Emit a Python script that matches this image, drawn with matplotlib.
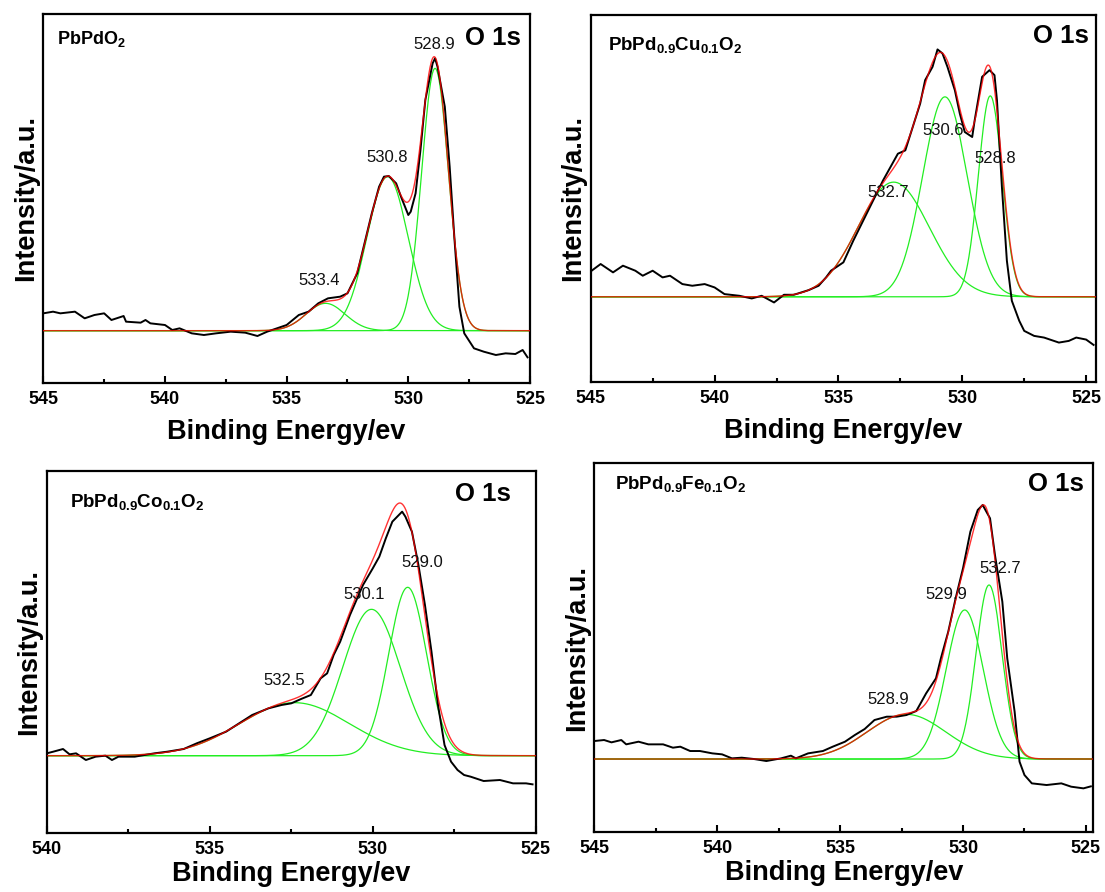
import numpy as np
import matplotlib
matplotlib.use("Agg")
import matplotlib.pyplot as plt
from matplotlib.ticker import MultipleLocator

plt.rcParams['font.family'] = ['Liberation Sans', 'DejaVu Sans']
plt.rcParams['mathtext.fontset'] = 'custom'
plt.rcParams['mathtext.rm'] = 'Liberation Sans:bold'
plt.rcParams['mathtext.bf'] = 'Liberation Sans:bold'
plt.rcParams['mathtext.default'] = 'bf'

# ---- measured O 1s spectra (binding energy in eV, intensity a.u., baseline subtracted)
p1_be = [545.0, 544.6, 544.3, 543.7, 543.3, 542.9, 542.5, 542.2, 541.7, 541.6, 541.0, 540.8,
         540.6, 540.0, 539.7, 539.4, 538.9, 538.4, 537.9, 537.3, 536.7, 536.2, 535.8, 535.4,
         535.0, 534.5, 534.1, 533.7, 533.3, 532.8, 532.5, 532.1, 531.8, 531.5, 531.2, 531.0,
         530.8, 530.5, 530.3, 530.0, 529.9, 529.7, 529.5, 529.3, 529.0, 528.9, 528.8, 528.5,
         528.3, 528.1, 527.9, 527.7, 527.3, 526.9, 526.4, 526.0, 525.6, 525.3, 525.1]
p1_int = [5.2, 5.7, 5.2, 5.7, 3.7, 4.7, 5.2, 3.2, 4.4, 2.7, 2.4, 3.2,
          2.2, 1.7, 0.2, 0.7, -0.8, -1.3, -0.8, -0.3, -0.6, -1.6, -0.3, 0.7,
          1.7, 4.7, 5.7, 8.2, 9.7, 10.2, 11.2, 17.2, 26.2, 35.2, 43.2, 46.2,
          46.4, 44.2, 40.2, 34.7, 35.7, 41.2, 54.2, 69.2, 80.2, 81.7, 79.2, 67.2,
          49.2, 27.2, 7.2, -0.8, -5.3, -6.3, -7.3, -6.8, -7.0, -5.8, -8.0]

p2_be = [545.0, 544.6, 544.1, 543.7, 543.2, 542.9, 542.5, 542.1, 541.8, 541.3, 540.9, 540.4,
         540.0, 539.6, 539.0, 538.5, 538.1, 537.6, 537.2, 536.8, 536.2, 535.8, 535.5, 535.3,
         534.8, 534.4, 534.0, 533.6, 533.2, 532.9, 532.6, 532.3, 532.0, 531.7, 531.5, 531.2,
         531.0, 530.8, 530.6, 530.3, 530.1, 529.9, 529.6, 529.5, 529.2, 528.9, 528.7, 528.6,
         528.4, 528.2, 528.0, 527.7, 527.5, 527.1, 526.7, 526.1, 525.7, 525.4, 525.0, 524.7]
p2_int = [7.6, 9.8, 7.3, 9.3, 7.8, 6.3, 7.8, 5.8, 6.3, 3.8, 3.3, 3.8,
          2.8, 0.8, 0.3, -0.5, 0.3, -1.7, 0.6, 0.6, 2.0, 3.3, 5.8, 7.8,
          10.3, 16.8, 22.8, 28.8, 34.8, 38.8, 42.8, 43.8, 50.8, 57.8, 64.8, 68.8,
          74.0, 72.8, 68.8, 61.8, 54.8, 49.3, 47.8, 52.8, 65.8, 67.8, 66.3, 58.8,
          32.8, 10.8, -1.2, -7.2, -10.2, -11.7, -12.2, -13.7, -13.2, -12.2, -12.8, -14.4]

p3_be = [540.0, 539.8, 539.5, 539.3, 539.1, 538.8, 538.5, 538.2, 538.0, 537.8, 537.3, 537.0,
         536.7, 536.3, 535.8, 535.4, 535.0, 534.5, 534.1, 533.7, 533.2, 532.8, 532.5, 532.2,
         531.9, 531.6, 531.4, 531.2, 531.0, 530.7, 530.3, 530.0, 529.8, 529.6, 529.4, 529.1,
         529.0, 528.8, 528.6, 528.4, 528.2, 528.0, 527.8, 527.6, 527.4, 527.2, 527.0, 526.6,
         526.1, 525.7, 525.3, 525.1]
p3_int = [0.7, 1.2, 2.0, 0.4, 0.7, -1.3, -0.3, 0.0, -1.3, -0.3, -0.3, 0.2,
          0.7, 1.2, 2.0, 3.7, 5.2, 7.2, 9.7, 12.2, 14.2, 15.2, 15.7, 17.0,
          18.2, 23.2, 24.7, 30.2, 34.2, 42.2, 51.2, 56.2, 59.7, 65.2, 70.2, 73.2,
          71.7, 67.2, 57.2, 45.2, 31.2, 15.2, 3.2, -1.8, -4.3, -5.8, -6.3, -7.6,
          -7.3, -8.3, -8.3, -8.6]

p4_be = [545.0, 544.6, 544.3, 543.9, 543.7, 543.2, 542.8, 542.2, 541.8, 541.5, 541.1, 540.7,
         540.2, 539.8, 539.4, 539.0, 538.5, 538.0, 537.4, 537.0, 536.8, 536.3, 535.7, 535.3,
         534.8, 534.4, 534.0, 533.6, 533.1, 532.7, 532.3, 531.9, 531.5, 531.1, 530.9, 530.6,
         530.3, 530.0, 529.7, 529.4, 529.2, 528.9, 528.7, 528.4, 528.2, 527.9, 527.7, 527.5,
         527.2, 526.6, 526.0, 525.6, 525.1, 524.8]
p4_int = [5.4, 5.7, 5.0, 5.7, 4.4, 5.2, 4.4, 4.4, 3.4, 3.7, 2.4, 2.4,
          1.7, 1.4, 0.2, 0.4, 0.0, -0.6, 0.2, 1.0, 0.2, 1.7, 2.4, 3.7,
          5.2, 7.2, 9.0, 11.7, 12.7, 12.7, 13.2, 14.4, 19.7, 24.2, 30.2, 38.2,
          48.2, 57.2, 68.2, 74.7, 76.2, 72.2, 61.2, 47.2, 30.2, 14.2, -0.8, -4.8,
          -7.3, -7.8, -7.3, -8.3, -8.8, -8.2]

# ---- fitted components: centre (eV), height, sigma (eV)
p1_peaks = [(533.4, 8.2, 0.8), (530.85, 46.2, 0.85), (528.9, 78.7, 0.55)]
p2_peaks = [(532.77, 34.3, 1.44), (530.7, 59.8, 0.9), (528.87, 60.1, 0.48)]
p3_peaks = [(532.4, 15.9, 1.68), (530.04, 43.9, 0.88), (528.93, 50.5, 0.58)]
p4_peaks = [(532.3, 13.4, 1.6), (529.93, 44.7, 0.75), (528.94, 52.2, 0.53)]

# ---- labels
p1_names = ['533.4', '530.8', '528.9']
p2_names = ['532.7', '530.6', '528.8']
p3_names = ['532.5', '530.1', '529.0']
p4_names = ['528.9', '529.9', '532.7']
compounds = [r'PbPdO$_{2}$', r'PbPd$_{0.9}$Cu$_{0.1}$O$_{2}$',
             r'PbPd$_{0.9}$Co$_{0.1}$O$_{2}$', r'PbPd$_{0.9}$Fe$_{0.1}$O$_{2}$']


def gauss(x, c, h, s):
    return h * np.exp(-(x - c) ** 2 / (2 * s ** 2))


fig = plt.figure(figsize=(11.05, 8.92), dpi=100)

panels = [
    dict(rect=[0.0392, 0.5710, 0.4404, 0.4133], be=p1_be, y=p1_int, peaks=p1_peaks,
         names=p1_names, xlim=(545, 525), ylim=(-15.6, 95.0),
         lab_xy=[(533.66, 13.7), (530.88, 50.7), (528.94, 84.4)],
         comp_xy=(0.029, 0.919), comp_fs=13, o1s_xy=(0.982, 0.916), xpad=8),
    dict(rect=[0.5346, 0.5721, 0.4573, 0.4111], be=p2_be, y=p2_int, peaks=p2_peaks,
         names=p2_names, xlim=(545, 524.6), ylim=(-25.4, 84.3),
         lab_xy=[(533.0, 29.8), (530.79, 48.5), (528.66, 40.1)],
         comp_xy=(0.035, 0.904), comp_fs=13.5, o1s_xy=(0.985, 0.923), xpad=8),
    dict(rect=[0.0423, 0.0665, 0.4426, 0.4055], be=p3_be, y=p3_int, peaks=p3_peaks,
         names=p3_names, xlim=(540, 525), ylim=(-23.1, 85.4),
         lab_xy=[(532.73, 21.2), (530.25, 47.0), (528.48, 56.7)],
         comp_xy=(0.048, 0.90), comp_fs=13.5, o1s_xy=(0.95, 0.917), xpad=2),
    dict(rect=[0.5378, 0.0676, 0.4516, 0.4130], be=p4_be, y=p4_int, peaks=p4_peaks,
         names=p4_names, xlim=(545, 524.7), ylim=(-21.8, 88.7),
         lab_xy=[(533.02, 16.4), (530.69, 48.0), (528.48, 55.7)],
         comp_xy=(0.041, 0.93), comp_fs=13.5, o1s_xy=(0.981, 0.925), xpad=2),
]

for i, p in enumerate(panels):
    ax = fig.add_axes(p['rect'])
    x = np.linspace(p['xlim'][1], p['xlim'][0], 800)
    total = np.zeros_like(x)
    for c, h, s in p['peaks']:
        g = gauss(x, c, h, s)
        total += g
        ax.plot(x, g, color='#22ee22', lw=0.9, zorder=2)
    ax.plot(p['be'], p['y'], color='black', lw=1.4, zorder=3)
    ax.plot(x, total, color='red', lw=1.0, alpha=0.8, zorder=4)

    for name, (lx, ly) in zip(p['names'], p['lab_xy']):
        ax.text(lx, ly, name, fontsize=12, ha='center', va='baseline', color='#111111', zorder=5)

    ax.text(p['comp_xy'][0], p['comp_xy'][1], compounds[i], transform=ax.transAxes,
            fontsize=p['comp_fs'], fontweight='bold', ha='left', va='baseline')
    ax.text(p['o1s_xy'][0], p['o1s_xy'][1], 'O 1s', transform=ax.transAxes,
            fontsize=18.5, fontweight='bold', ha='right', va='baseline')

    ax.set_xlim(*p['xlim'])
    ax.set_ylim(*p['ylim'])
    ax.xaxis.set_major_locator(MultipleLocator(5))
    ax.xaxis.set_minor_locator(MultipleLocator(2.5))
    ax.tick_params(axis='x', which='major', direction='in', length=5, width=1.5,
                   labelsize=13, pad=6)
    ax.tick_params(axis='x', which='minor', direction='in', length=3, width=1.5)
    ax.set_yticks([])
    for lab in ax.get_xticklabels():
        lab.set_fontweight('bold')
    for sp in ax.spines.values():
        sp.set_linewidth(1.6)
    ax.set_xlabel('Binding Energy/ev', fontsize=19.5, fontweight='bold', labelpad=p['xpad'])
    ax.set_ylabel('Intensity/a.u.', fontsize=19.5, fontweight='bold', labelpad=3)

fig.savefig('out.png', dpi=100)
